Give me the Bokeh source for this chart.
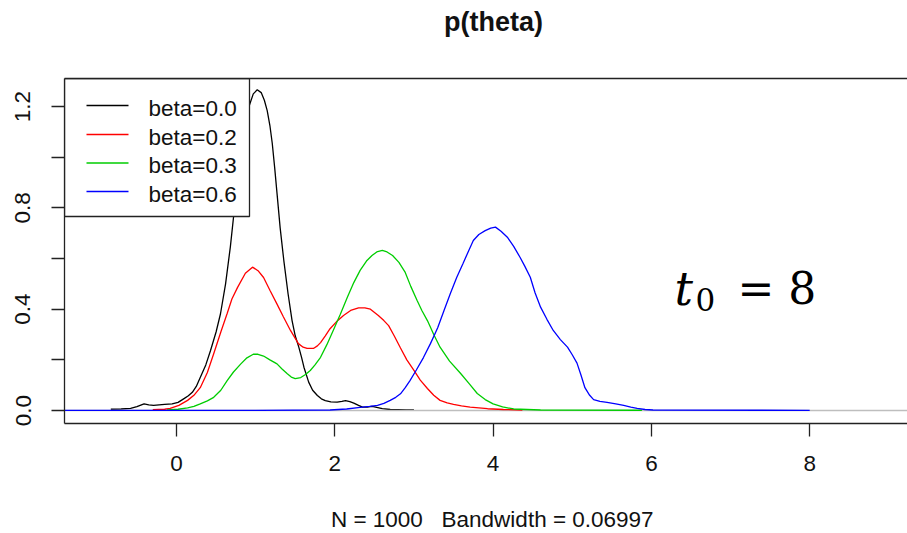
from bokeh.plotting import figure
from bokeh.models import Range1d, FixedTicker, LinearAxis, Label, PrintfTickFormatter
from bokeh.core.properties import value
from bokeh.embed import file_html
from bokeh.resources import INLINE

# ---------------- data ----------------
beta0_x = [-0.83, -0.70, -0.58, -0.50, -0.41, -0.35, -0.29, -0.15, -0.055, 0.02, 0.09, 0.15, 0.20, 0.25,
           0.30, 0.37, 0.43, 0.50, 0.556, 0.62, 0.68, 0.74, 0.80, 0.86, 0.92, 0.97, 1.02, 1.07, 1.11,
           1.146, 1.18, 1.21, 1.24, 1.27, 1.31, 1.356, 1.41, 1.46, 1.50, 1.545, 1.58, 1.61, 1.67, 1.72,
           1.78, 1.83, 1.88, 1.95, 2.03, 2.09, 2.135, 2.19, 2.24, 2.30, 2.35, 2.41, 2.47, 2.53, 2.60,
           2.70, 2.80, 2.90, 3.00]
beta0_y = [0.005, 0.006, 0.008, 0.015, 0.026, 0.022, 0.020, 0.024, 0.026, 0.032, 0.046, 0.058, 0.072, 0.095,
           0.130, 0.180, 0.237, 0.310, 0.382, 0.500, 0.645, 0.820, 0.980, 1.110, 1.204, 1.250, 1.266, 1.255,
           1.225, 1.184, 1.125, 1.054, 0.960, 0.857, 0.720, 0.592, 0.460, 0.355, 0.295, 0.250, 0.210, 0.171,
           0.112, 0.080, 0.059, 0.046, 0.039, 0.034, 0.033, 0.036, 0.039, 0.035, 0.029, 0.020, 0.013, 0.013,
           0.016, 0.012, 0.007, 0.004, 0.003, 0.002, 0.002]

beta2_x = [-0.30, -0.15, -0.08, 0.03, 0.14, 0.22, 0.30, 0.39, 0.47, 0.56, 0.64, 0.70, 0.77, 0.87, 0.96,
           1.03, 1.10, 1.18, 1.27, 1.35, 1.44, 1.54, 1.60, 1.65, 1.73, 1.78, 1.82, 1.88, 1.94, 2.02, 2.11,
           2.20, 2.30, 2.38, 2.45, 2.55, 2.62, 2.68, 2.75, 2.83, 2.91, 3.00, 3.08, 3.17, 3.25, 3.33, 3.42,
           3.50, 3.60, 3.71, 3.82, 3.93, 4.13, 4.37]
beta2_y = [0.003, 0.005, 0.008, 0.020, 0.040, 0.060, 0.090, 0.150, 0.224, 0.310, 0.383, 0.440, 0.485, 0.542,
           0.566, 0.552, 0.525, 0.475, 0.420, 0.370, 0.316, 0.264, 0.250, 0.245, 0.245, 0.255, 0.268, 0.295,
           0.323, 0.350, 0.375, 0.395, 0.405, 0.405, 0.400, 0.375, 0.355, 0.335, 0.295, 0.247, 0.200, 0.158,
           0.120, 0.087, 0.060, 0.040, 0.030, 0.024, 0.018, 0.013, 0.010, 0.007, 0.004, 0.002]

beta3_x = [-0.12, 0.02, 0.14, 0.22, 0.30, 0.39, 0.47, 0.56, 0.64, 0.72, 0.81, 0.89, 0.97, 1.03, 1.10,
           1.18, 1.27, 1.33, 1.40, 1.45, 1.50, 1.57, 1.63, 1.69, 1.75, 1.82, 1.90, 1.98, 2.07, 2.16, 2.24,
           2.32, 2.40, 2.47, 2.53, 2.60, 2.66, 2.73, 2.81, 2.89, 2.96, 3.04, 3.10, 3.17, 3.25, 3.33, 3.45,
           3.59, 3.70, 3.80, 3.90, 4.00, 4.12, 4.26, 4.60, 5.88]
beta3_y = [0.002, 0.005, 0.010, 0.016, 0.026, 0.038, 0.052, 0.080, 0.118, 0.152, 0.183, 0.208, 0.222, 0.222,
           0.215, 0.200, 0.184, 0.165, 0.145, 0.132, 0.126, 0.130, 0.142, 0.158, 0.180, 0.210, 0.260, 0.316,
           0.380, 0.448, 0.505, 0.553, 0.590, 0.612, 0.626, 0.632, 0.626, 0.612, 0.585, 0.545, 0.490, 0.434,
           0.395, 0.355, 0.300, 0.250, 0.195, 0.146, 0.105, 0.067, 0.043, 0.026, 0.014, 0.006, 0.002, 0.001]

beta6_x = [-1.70, 1.00, 1.94, 2.15, 2.32, 2.44, 2.54, 2.62, 2.70, 2.77, 2.83, 2.89, 2.95, 3.03, 3.12,
           3.21, 3.30, 3.38, 3.46, 3.54, 3.62, 3.69, 3.75, 3.82, 3.90, 3.97, 4.03, 4.10, 4.18, 4.26, 4.34,
           4.40, 4.47, 4.53, 4.60, 4.68, 4.76, 4.85, 4.94, 5.00, 5.06, 5.11, 5.16, 5.22, 5.27, 5.35, 5.44,
           5.55, 5.65, 5.74, 5.82, 5.92, 6.02, 8.00]
beta6_y = [0.0005, 0.0005, 0.002, 0.006, 0.012, 0.016, 0.020, 0.028, 0.040, 0.052, 0.066, 0.090, 0.118,
           0.160, 0.209, 0.265, 0.327, 0.395, 0.462, 0.525, 0.580, 0.630, 0.671, 0.695, 0.710, 0.720, 0.724,
           0.708, 0.684, 0.648, 0.605, 0.570, 0.526, 0.465, 0.408, 0.360, 0.316, 0.280, 0.250, 0.220, 0.187,
           0.140, 0.090, 0.060, 0.043, 0.036, 0.032, 0.026, 0.020, 0.013, 0.008, 0.004, 0.002, 0.0005]

series_labels = ["beta=0.0", "beta=0.2", "beta=0.3", "beta=0.6"]
series_colors = ["#000000", "#FF0000", "#00CD00", "#0000FF"]
x_ticks = [0, 2, 4, 6, 8]
y_major_ticks = [0.0, 0.4, 0.8, 1.2]
y_minor_ticks = [0.2, 0.6, 1.0]
title_text = "p(theta)"
subtitle_text = "N = 1000 \u00a0 Bandwidth = 0.06997"

# ---------------- layout ----------------
PX0, PXU = 176.0, 79.15      # px of x=0, px per x-unit
PY0, PYU = 410.0, 253.3      # px of y=0, px per y-unit
def X(px):
    return (px - PX0) / PXU
def Y(py):
    return (PY0 - py) / PYU

FRAME_L, FRAME_T = 64, 78
FRAME_W, FRAME_H = 843, 345
BORDER_B = 533 - FRAME_T - FRAME_H
XMIN = X(FRAME_L)
XMAX = XMIN + FRAME_W / PXU
YMIN = Y(FRAME_T + FRAME_H)
YMAX = YMIN + FRAME_H / PYU

FONT = "Liberation Sans"
FS = "22.5px"
INK = "#222222"
TXT = "#111111"
NB2 = "\u00a0\u00a0"   # shifts the centred titles right, as R centres them on a wider plot region

p = figure(frame_width=FRAME_W, frame_height=FRAME_H,
           min_border_left=FRAME_L, min_border_right=0, min_border_top=FRAME_T, min_border_bottom=BORDER_B,
           x_range=Range1d(XMIN, XMAX), y_range=Range1d(YMIN, YMAX),
           output_backend="svg", toolbar_location=None)
p.outline_line_color = None
p.grid.visible = False
p.background_fill_color = "white"
p.border_fill_color = "white"

for ax in (p.xaxis[0], p.yaxis[0]):
    ax.axis_line_color = INK
    ax.axis_line_width = 1.3
    ax.major_tick_line_color = INK
    ax.major_tick_line_width = 1.3
    ax.major_tick_out = 13
    ax.major_tick_in = 0
    ax.major_label_text_font = FONT
    ax.major_label_text_font_size = FS
    ax.major_label_text_color = TXT

xa = p.xaxis[0]
xa.ticker = FixedTicker(ticks=x_ticks, minor_ticks=[])
xa.minor_tick_line_color = None
xa.major_label_standoff = 19
xa.axis_label = NB2 + subtitle_text
xa.axis_label_text_font = FONT
xa.axis_label_text_font_size = FS
xa.axis_label_text_font_style = "normal"
xa.axis_label_text_color = TXT
xa.axis_label_standoff = 33

ya = p.yaxis[0]
ya.ticker = FixedTicker(ticks=y_major_ticks, minor_ticks=y_minor_ticks)
ya.formatter = PrintfTickFormatter(format="%.1f")
ya.minor_tick_line_color = INK
ya.minor_tick_line_width = 1.3
ya.minor_tick_out = 13
ya.minor_tick_in = 0
ya.major_label_orientation = "vertical"
ya.major_label_standoff = 21

# top frame line carrying the bold title as its label
top_axis = LinearAxis(ticker=FixedTicker(ticks=[], minor_ticks=[]),
                      axis_line_color=INK, axis_line_width=1.3,
                      major_tick_line_color=None, minor_tick_line_color=None,
                      major_tick_out=0, major_label_standoff=0,
                      major_label_text_font_size="0px",
                      axis_label=NB2 + title_text, axis_label_text_font=FONT,
                      axis_label_text_font_style="bold", axis_label_text_font_size="27px",
                      axis_label_text_color=TXT, axis_label_standoff=42)
p.add_layout(top_axis, "above")

# curves: black first, then the gray zero line, then the others
xs_all = [beta0_x, beta2_x, beta3_x, beta6_x]
ys_all = [beta0_y, beta2_y, beta3_y, beta6_y]
p.line(beta0_x, beta0_y, line_color=series_colors[0], line_width=1.3)
p.line([XMIN, XMAX], [0, 0], line_color="#BEBEBE", line_width=1.3)
for xs, ys, c in zip(xs_all[1:], ys_all[1:], series_colors[1:]):
    p.line(xs, ys, line_color=c, line_width=1.3)

# legend (drawn by hand to match R's layout)
p.quad(left=[X(64)], right=[X(249)], top=[Y(78)], bottom=[Y(216)],
       fill_color="white", line_color=INK, line_width=1.3)
row_py = [105, 134, 162.5, 191]
p.segment(x0=[X(86)] * 4, x1=[X(128)] * 4, y0=[Y(r) for r in row_py], y1=[Y(r) for r in row_py],
          line_color=series_colors, line_width=1.3)
p.text(x=[X(148)] * 4, y=[Y(r + 2.5) for r in row_py], text=series_labels,
       text_font=value(FONT), text_font_size=value(FS), text_color=TXT,
       text_align="left", text_baseline="alphabetic")

# annotation t_0 = 8
p.add_layout(Label(x=X(674), y=Y(288), text="t", text_font="DejaVu Serif", text_font_style="italic",
                   text_font_size="46px", text_baseline="alphabetic", text_color="black"))
p.add_layout(Label(x=X(695), y=Y(299), text="0", text_font="DejaVu Serif",
                   text_font_size="31px", text_baseline="alphabetic", text_color="black"))
p.add_layout(Label(x=X(737), y=Y(288), text="= 8", text_font="DejaVu Serif",
                   text_font_size="44px", text_baseline="alphabetic", text_color="black"))

open("out.html", "w").write(file_html(p, INLINE))
